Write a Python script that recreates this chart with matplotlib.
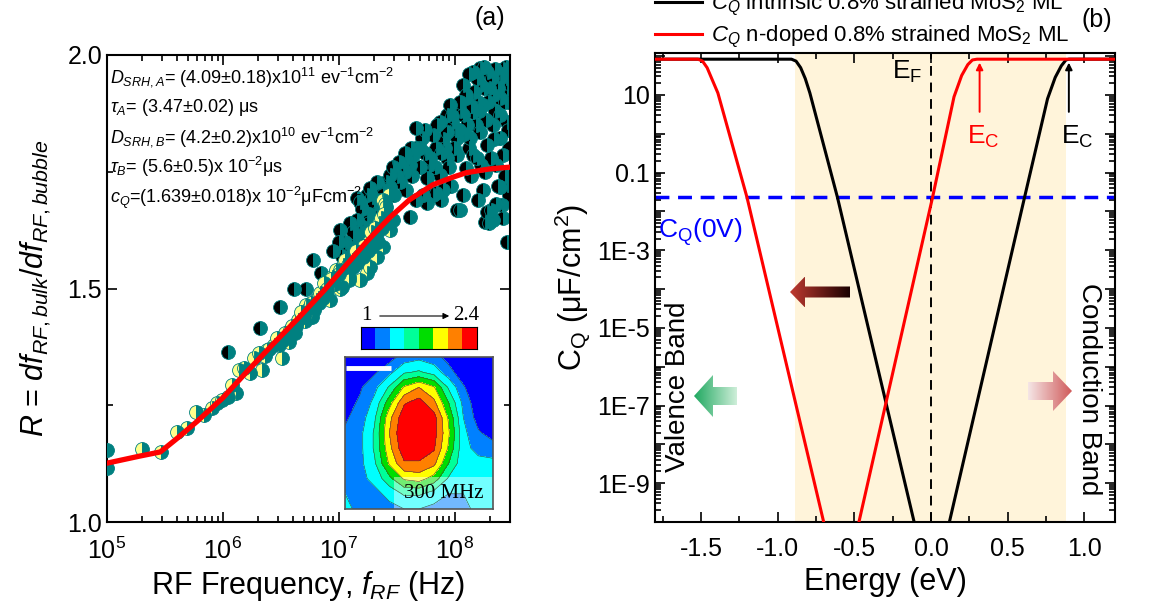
import numpy as np
import matplotlib
matplotlib.use('Agg')
import matplotlib.pyplot as plt
from matplotlib.colors import ListedColormap, LinearSegmentedColormap
from matplotlib.patches import Polygon, Rectangle, FancyArrowPatch
from matplotlib.ticker import FixedLocator, LogLocator, MultipleLocator, FuncFormatter, NullFormatter

plt.rcParams['font.family'] = ['Liberation Sans', 'DejaVu Sans']
plt.rcParams['mathtext.fontset'] = 'custom'
plt.rcParams['mathtext.rm'] = 'Liberation Sans'
plt.rcParams['mathtext.it'] = 'Liberation Sans:italic'
plt.rcParams['mathtext.bf'] = 'Liberation Sans:bold'

W, H = 1151, 615

# ---- panel (a): R vs RF frequency ----
# yellow/teal points (log10 f, R)
yel_logf = [5.0, 5.0, 5.30, 5.47, 5.60, 5.69, 5.77, 5.84, 5.91, 5.95, 5.99, 6.04, 6.08, 6.11,
            6.14, 6.18, 6.23, 6.27, 6.31, 6.34, 6.36, 6.38, 6.40, 6.44, 6.47, 6.48, 6.51, 6.54,
            6.56, 6.58, 6.60, 6.62, 6.65, 6.68, 6.70, 6.72, 6.74, 6.77, 6.80, 6.82, 6.84, 6.87,
            6.90, 6.92, 6.94, 6.95, 6.98, 7.01, 7.01, 7.03, 7.04, 7.06, 7.09, 7.09, 7.11, 7.13,
            7.16, 7.18, 7.20, 7.21, 7.24, 7.26, 7.27, 7.29, 7.30, 7.33, 7.33, 7.35, 7.36, 7.38,
            7.38, 7.40, 7.41, 7.41, 7.43, 7.44, 7.47,
            6.52, 6.57, 6.63, 6.67, 6.71, 6.76, 6.79, 6.83, 6.86, 6.89, 6.93, 6.97, 7.00, 7.05,
            7.08, 7.12, 7.15, 7.17, 7.22, 7.25, 7.28, 7.31, 7.34, 7.37, 7.39, 7.42]
yel_R = [1.154, 1.116, 1.156, 1.150, 1.193, 1.201, 1.236, 1.229, 1.244, 1.255, 1.261, 1.268, 1.293, 1.276,
         1.325, 1.330, 1.319, 1.351, 1.362, 1.325, 1.355, 1.368, 1.370, 1.379, 1.394, 1.380, 1.351, 1.405,
         1.400, 1.411, 1.420, 1.405, 1.432, 1.440, 1.443, 1.465, 1.458, 1.439, 1.475, 1.480, 1.490, 1.512,
         1.500, 1.475, 1.525, 1.518, 1.540, 1.500, 1.540, 1.503, 1.550, 1.545, 1.525, 1.518, 1.560, 1.561,
         1.555, 1.518, 1.580, 1.567, 1.533, 1.600, 1.546, 1.589, 1.610, 1.567, 1.619, 1.640, 1.650, 1.589,
         1.690, 1.680, 1.662, 1.675, 1.700, 1.625, 1.647,
         1.390, 1.385, 1.420, 1.450, 1.430, 1.470, 1.455, 1.470, 1.480, 1.490, 1.520, 1.510, 1.530, 1.560,
         1.550, 1.545, 1.580, 1.570, 1.590, 1.580, 1.620, 1.630, 1.600, 1.630, 1.660, 1.640]

# black/teal points (log10 f, R)
dark_logf = [6.04, 6.32, 6.49, 6.61, 6.72, 6.78, 6.85, 6.90, 7.01, 7.05, 7.07, 7.10, 7.14, 7.16,
             7.16, 7.18, 7.20, 7.21, 7.24, 7.24, 7.27, 7.29, 7.30, 7.33, 7.33, 7.38, 7.38, 7.41,
             7.44, 7.44, 7.50, 7.53, 7.55, 7.58, 7.61, 7.61, 7.64, 7.67, 7.67, 7.67, 7.70, 7.72,
             7.76, 7.76, 7.78, 7.81, 7.81, 7.84, 7.84, 7.87, 7.87, 7.90, 7.90, 7.93, 7.93, 7.93,
             7.96, 7.98, 8.00, 8.02, 8.02, 8.02, 8.05, 8.05, 8.07, 8.07, 8.10, 8.10, 8.10, 8.12,
             8.13, 8.16, 8.16, 8.16, 8.18, 8.20, 8.22, 8.22, 8.22, 8.23, 8.24, 8.24, 8.26, 8.28,
             8.28, 8.28, 8.30, 8.30, 8.31, 8.33, 8.33, 8.33, 8.35, 8.36, 8.39, 8.39, 8.39, 8.39,
             8.39, 8.41, 8.42, 8.42, 8.44, 8.45, 8.45, 8.45, 8.45, 8.47, 8.47,
             7.47, 7.52, 7.57, 7.63, 7.70, 7.74, 7.79, 7.83, 7.88, 7.92, 7.95, 7.99, 8.04, 8.08,
             8.11, 8.14, 8.17, 8.19, 8.21, 8.25, 8.27, 8.29, 8.32, 8.34, 8.37, 8.40, 8.43, 8.46,
             8.46, 8.43, 8.37, 8.31, 8.26, 8.19, 8.14, 8.07, 7.97, 7.88, 7.73, 7.58, 7.48, 7.36,
             7.26, 7.12, 8.36, 8.42, 8.47, 8.20, 8.12, 8.25, 8.35, 8.44, 8.05, 7.98, 7.85, 7.74,
             7.62, 7.57, 6.95, 7.00, 7.03, 7.12, 7.18, 7.22, 7.26]
dark_R = [1.364, 1.415, 1.460, 1.500, 1.500, 1.561, 1.533, 1.518, 1.625, 1.600, 1.589, 1.640, 1.615, 1.647,
          1.694, 1.685, 1.670, 1.632, 1.653, 1.700, 1.715, 1.696, 1.680, 1.662, 1.728, 1.711, 1.700, 1.728,
          1.717, 1.743, 1.740, 1.728, 1.758, 1.780, 1.653, 1.764, 1.786, 1.690, 1.801, 1.844, 1.760, 1.822,
          1.683, 1.737, 1.764, 1.700, 1.829, 1.705, 1.800, 1.743, 1.856, 1.711, 1.820, 1.779, 1.835, 1.871,
          1.893, 1.856, 1.840, 1.668, 1.786, 1.822, 1.668, 1.880, 1.871, 1.936, 1.758, 1.908, 1.914, 1.800,
          1.822, 1.786, 1.878, 1.963, 1.850, 1.900, 1.835, 1.936, 1.972, 1.764, 1.893, 1.711, 1.642, 1.664,
          1.807, 1.963, 1.640, 1.930, 1.668, 1.647, 1.850, 1.914, 1.880, 1.764, 1.717, 1.822, 1.871, 1.908,
          1.950, 1.679, 1.786, 1.970, 1.950, 1.722, 1.856, 1.929, 1.600, 1.800, 1.900,
          1.760, 1.770, 1.750, 1.740, 1.800, 1.790, 1.780, 1.760, 1.790, 1.800, 1.760, 1.800, 1.840, 1.830,
          1.850, 1.890, 1.920, 1.950, 1.880, 1.930, 1.860, 1.900, 1.950, 1.820, 1.930, 1.960, 1.900, 1.940,
          1.840, 1.740, 1.720, 1.780, 1.750, 1.780, 1.740, 1.700, 1.720, 1.690, 1.700, 1.710, 1.700, 1.690,
          1.660, 1.620, 1.680, 1.650, 1.700, 1.690, 1.960, 1.975, 1.970, 1.975, 1.900, 1.870, 1.850, 1.840,
          1.800, 1.790, 1.580, 1.600, 1.570, 1.590, 1.620, 1.600, 1.640]

# fit line
fit_logf = [5.0, 5.28, 5.46, 5.60, 5.78, 6.0, 6.2, 6.44, 6.66, 6.87, 7.07, 7.25, 7.44, 7.61,
            7.81, 7.98, 8.1, 8.3, 8.48]
fit_R = [1.126, 1.141, 1.150, 1.178, 1.216, 1.266, 1.320, 1.383, 1.439, 1.495, 1.552, 1.603, 1.652,
         1.690, 1.722, 1.738, 1.748, 1.756, 1.760]

fit_params = [
    r"$D_{SRH,A}$= (4.09±0.18)x10$^{11}$ ev$^{-1}$cm$^{-2}$",
    r"$\tau_A$= (3.47±0.02) μs",
    r"$D_{SRH,B}$= (4.2±0.2)x10$^{10}$ ev$^{-1}$cm$^{-2}$",
    r"$\tau_B$= (5.6±0.5)x 10$^{-2}$μs",
    r"$c_Q$=(1.639±0.018)x 10$^{-2}$μFcm$^{-2}$",
]

# inset map values (rows top -> bottom)
map_vals = np.array([
    [1.00, 1.00, 1.00, 1.10, 1.25, 1.30, 1.25, 1.10, 1.00, 1.00, 1.00],
    [1.00, 1.05, 1.15, 1.30, 1.50, 1.55, 1.45, 1.25, 1.05, 1.00, 1.00],
    [1.05, 1.15, 1.30, 1.55, 1.90, 2.05, 1.90, 1.50, 1.20, 1.00, 1.00],
    [1.10, 1.20, 1.40, 1.80, 2.20, 2.30, 2.10, 1.70, 1.30, 1.05, 1.00],
    [1.15, 1.25, 1.50, 2.00, 2.35, 2.40, 2.30, 1.85, 1.35, 1.10, 1.00],
    [1.20, 1.30, 1.55, 2.05, 2.40, 2.40, 2.30, 1.90, 1.40, 1.20, 1.10],
    [1.20, 1.30, 1.55, 2.00, 2.35, 2.35, 2.25, 1.85, 1.40, 1.30, 1.25],
    [1.20, 1.30, 1.50, 1.90, 2.20, 2.20, 2.10, 1.70, 1.40, 1.40, 1.40],
    [1.25, 1.30, 1.40, 1.65, 1.90, 1.95, 1.80, 1.50, 1.40, 1.45, 1.45],
    [1.35, 1.30, 1.30, 1.40, 1.55, 1.55, 1.45, 1.35, 1.35, 1.40, 1.45],
    [1.40, 1.30, 1.25, 1.30, 1.35, 1.35, 1.30, 1.25, 1.30, 1.40, 1.40],
])
map_colors = ['#0000FF', '#0080FF', '#00FFFF', '#00FF99', '#00DD00', '#FFFF00', '#FF8000', '#FF0000']

# ---- panel (b): quantum capacitance vs energy (log10 C in uF/cm2) ----
intr_E = [-1.8, -0.91, -0.88, -0.85, -0.82, -0.79, -0.61, -0.11, -0.05, np.nan,
          0.06, 0.12, 0.61, 0.76, 0.81, 0.85, 0.88, 0.90, 1.2]
intr_logC = [1.92, 1.92, 1.87, 1.70, 1.42, 1.05, -1.64, -10.0, -11.0, np.nan,
             -11.0, -10.0, -1.64, 0.90, 1.45, 1.75, 1.90, 1.92, 1.92]
dop_E = [-1.8, -1.52, -1.49, -1.46, -1.43, -1.39, -1.20, -0.70, -0.64, np.nan,
         -0.53, -0.47, 0.01, 0.15, 0.20, 0.24, 0.27, 0.30, 1.2]
dop_logC = [1.92, 1.92, 1.87, 1.70, 1.42, 1.05, -1.64, -10.0, -11.0, np.nan,
            -11.0, -10.0, -1.64, 0.95, 1.50, 1.78, 1.90, 1.92, 1.92]
cq_0v = 0.023
gap_lo, gap_hi = -0.89, 0.88


def px_box(x0, y0, x1, y1):
    return [x0 / W, 1 - y1 / H, (x1 - x0) / W, (y1 - y0) / H]


def grad_arrow(fig, tip, tail, yc, body_h, head_h, head_len, c_tip, c_tail):
    x0, x1 = min(tip, tail), max(tip, tail)
    w = x1 - x0
    a = fig.add_axes(px_box(x0, yc - head_h / 2, x1, yc + head_h / 2))
    a.set_xlim(0, w)
    a.set_ylim(-head_h / 2, head_h / 2)
    a.axis('off')
    if tip < tail:
        pts = [(0, 0), (head_len, head_h / 2), (head_len, body_h / 2), (w, body_h / 2),
               (w, -body_h / 2), (head_len, -body_h / 2), (head_len, -head_h / 2)]
        cmap = LinearSegmentedColormap.from_list('g', [c_tip, c_tail])
    else:
        pts = [(w, 0), (w - head_len, head_h / 2), (w - head_len, body_h / 2), (0, body_h / 2),
               (0, -body_h / 2), (w - head_len, -body_h / 2), (w - head_len, -head_h / 2)]
        cmap = LinearSegmentedColormap.from_list('g', [c_tail, c_tip])
    poly = Polygon(pts, closed=True, facecolor='none', edgecolor='none')
    a.add_patch(poly)
    img = a.imshow(np.linspace(0, 1, 256).reshape(1, -1), cmap=cmap, aspect='auto',
                   extent=(0, w, -head_h / 2, head_h / 2))
    img.set_clip_path(poly)


fig = plt.figure(figsize=(W / 100, H / 100), dpi=100)

# ---------------- panel (a) ----------------
ax1 = fig.add_axes(px_box(107, 55, 510, 522))
ax1.plot(10 ** np.array(dark_logf), dark_R, 'o', ms=10, fillstyle='left',
         markerfacecolor='black', markerfacecoloralt='#008080', markeredgecolor='#008080',
         markeredgewidth=0.6, zorder=2)
ax1.plot(10 ** np.array(yel_logf), yel_R, 'o', ms=10, fillstyle='left',
         markerfacecolor='#FFFF8C', markerfacecoloralt='#008080', markeredgecolor='#008080',
         markeredgewidth=0.6, zorder=3)
ax1.plot(10 ** np.array(fit_logf), fit_R, color='#FF0000', lw=3.8, zorder=4,
         solid_joinstyle='round')
ax1.set_xscale('log')
ax1.set_xlim(1e5, 3e8)
ax1.set_ylim(1.0, 2.0)
ax1.yaxis.set_major_locator(MultipleLocator(0.5))
ax1.yaxis.set_minor_locator(MultipleLocator(0.25))
ax1.yaxis.set_major_formatter(FuncFormatter(lambda v, p: f'{v:.1f}'))
ax1.tick_params(which='both', direction='in', top=True, right=True, width=1.2, labelsize=18)
ax1.tick_params(which='major', length=7)
ax1.tick_params(which='minor', length=4)
ax1.tick_params(axis='x', which='major', pad=11)
for s in ax1.spines.values():
    s.set_linewidth(1.5)
ax1.set_xlabel(r"RF Frequency, $f_{RF}$ (Hz)", fontsize=22, labelpad=4)
ax1.set_ylabel(r"$R$ = $df_{RF,bulk}$/$df_{RF,bubble}$", fontsize=22, labelpad=10)
for i, t in enumerate(fit_params):
    ax1.text(0.007, 0.953 - i * 0.0645, t, transform=ax1.transAxes, fontsize=13, va='center', ha='left')
fig.text(490 / W, 1 - 18 / H, '(a)', fontsize=18, ha='center', va='center')

# colour scale of the inset
cb = fig.add_axes(px_box(361, 327, 477, 349))
cb.imshow(np.arange(len(map_colors)).reshape(1, -1), cmap=ListedColormap(map_colors), aspect='auto')
cb.set_xticks([])
cb.set_yticks([])
fig.text(366 / W, 1 - 316 / H, '1', fontsize=15, family='Liberation Serif', ha='center', va='center')
fig.text(466 / W, 1 - 316 / H, '2.4', fontsize=15, family='Liberation Serif', ha='center', va='center')
fig.add_artist(FancyArrowPatch((377 / W, 1 - 316 / H), (452 / W, 1 - 316 / H),
                               transform=fig.transFigure, arrowstyle='-|>',
                               mutation_scale=9, lw=0.8, color='black'))

# inset map
im_ax = fig.add_axes(px_box(345, 357, 493, 509))
nr, nc = map_vals.shape
levels = np.linspace(1.0, 2.4, len(map_colors) + 1)
im_ax.contourf(np.arange(nc), np.arange(nr), map_vals, levels=levels, colors=map_colors)
im_ax.contour(np.arange(nc), np.arange(nr), map_vals, levels=levels[1:-1], colors='#404040', linewidths=0.4)
im_ax.set_xlim(0, nc - 1)
im_ax.set_ylim(nr - 1, 0)
im_ax.set_xticks([])
im_ax.set_yticks([])
for s in im_ax.spines.values():
    s.set_edgecolor('#555555')
    s.set_linewidth(1.2)
im_ax.plot([0.1, 3.1], [0.75, 0.75], color='white', lw=3.5, solid_capstyle='butt')
im_ax.add_patch(Rectangle((3.3, 7.9), 6.7, 2.1, facecolor='white', alpha=0.45, edgecolor='none'))
im_ax.text(6.65, 8.95, '300 MHz', fontsize=15, family='Liberation Serif', ha='center', va='center')

# ---------------- panel (b) ----------------
ax2 = fig.add_axes(px_box(655, 53, 1115, 522))
ax2.axvspan(gap_lo, gap_hi, color='#FFF4DA', lw=0, zorder=0)
ax2.plot(intr_E, 10 ** np.array(intr_logC), color='black', lw=2.2, zorder=3,
         label=r"$C_Q$ intrinsic 0.8% strained MoS$_2$ ML")
ax2.plot(dop_E, 10 ** np.array(dop_logC), color='#FF0000', lw=2.2, zorder=4,
         label=r"$C_Q$ n-doped 0.8% strained MoS$_2$ ML")
ax2.axhline(cq_0v, color='#0000FF', lw=2.5, ls=(0, (4, 2.5)), zorder=2)
ax2.axvline(0.0, color='black', lw=1.4, ls=(0, (5, 3.5)), zorder=2)
ax2.set_yscale('log')
ax2.set_xlim(-1.8, 1.2)
ax2.set_ylim(1e-10, 120)
ax2.xaxis.set_major_locator(MultipleLocator(0.5))
ax2.xaxis.set_minor_locator(MultipleLocator(0.25))
ax2.xaxis.set_major_formatter(FuncFormatter(lambda v, p: f'{v:.1f}'))


def cq_fmt(v, pos):
    e = int(round(np.log10(v)))
    if e % 2 == 0:
        return ''
    if e == 1:
        return '10'
    if e == -1:
        return '0.1'
    return f'1E{e}'


ax2.yaxis.set_major_locator(FixedLocator([10.0 ** e for e in range(-10, 3)]))
ax2.yaxis.set_major_formatter(FuncFormatter(cq_fmt))
ax2.yaxis.set_minor_locator(LogLocator(base=10, subs=np.arange(2, 10), numticks=100))
ax2.yaxis.set_minor_formatter(NullFormatter())
ax2.tick_params(which='both', direction='in', top=True, right=True, width=1.2, labelsize=18)
ax2.tick_params(which='major', length=7)
ax2.tick_params(which='minor', length=4)
ax2.tick_params(axis='x', which='major', pad=11)
for s in ax2.spines.values():
    s.set_linewidth(1.5)
ax2.set_xlabel('Energy (eV)', fontsize=22, labelpad=4)
ax2.set_ylabel(r"C$_\mathrm{Q}$ (μF/cm$^2$)", fontsize=22, labelpad=3)

ax2.text(-0.153, 39, r"E$_\mathrm{F}$", fontsize=19, ha='center', va='center')
ax2.text(0.343, 0.85, r"E$_\mathrm{C}$", fontsize=19, color='#FF0000', ha='center', va='center')
ax2.text(0.951, 0.85, r"E$_\mathrm{C}$", fontsize=19, color='black', ha='center', va='center')
ax2.annotate('', xy=(0.317, 80), xytext=(0.317, 3.1),
             arrowprops=dict(arrowstyle='-|>', color='#FF0000', lw=1.4, mutation_scale=10))
ax2.annotate('', xy=(0.899, 80), xytext=(0.899, 3.1),
             arrowprops=dict(arrowstyle='-|>', color='black', lw=1.4, mutation_scale=10))
ax2.text(-1.78, 10 ** -2.54, r"C$_\mathrm{Q}$(0V)", fontsize=19, color='#0000FF', ha='left', va='center')
ax2.text(-1.65, 10 ** -6.51, 'Valence Band', fontsize=20, rotation=90, ha='center', va='center')
ax2.text(1.03, 10 ** -6.59, 'Conduction Band', fontsize=20, rotation=270, ha='center', va='center')

fig.legend(*ax2.get_legend_handles_labels(), loc='lower left', bbox_to_anchor=(655 / W, 1 - 50 / H),
           frameon=False, fontsize=16, handlelength=2.1, handletextpad=0.4, labelspacing=0.25,
           borderaxespad=0, borderpad=0)
fig.text(1097 / W, 1 - 20 / H, '(b)', fontsize=18, ha='center', va='center')

# gradient arrows
grad_arrow(fig, 790, 850, 292, 11, 31, 15, '#C03A30', '#1A0000')
grad_arrow(fig, 694, 737, 396, 18, 42, 19, '#1FA860', '#D3F0DC')
grad_arrow(fig, 1072, 1028, 391, 18, 40, 19, '#D05A5A', '#F5E6E6')

fig.savefig('out.png', dpi=100)
